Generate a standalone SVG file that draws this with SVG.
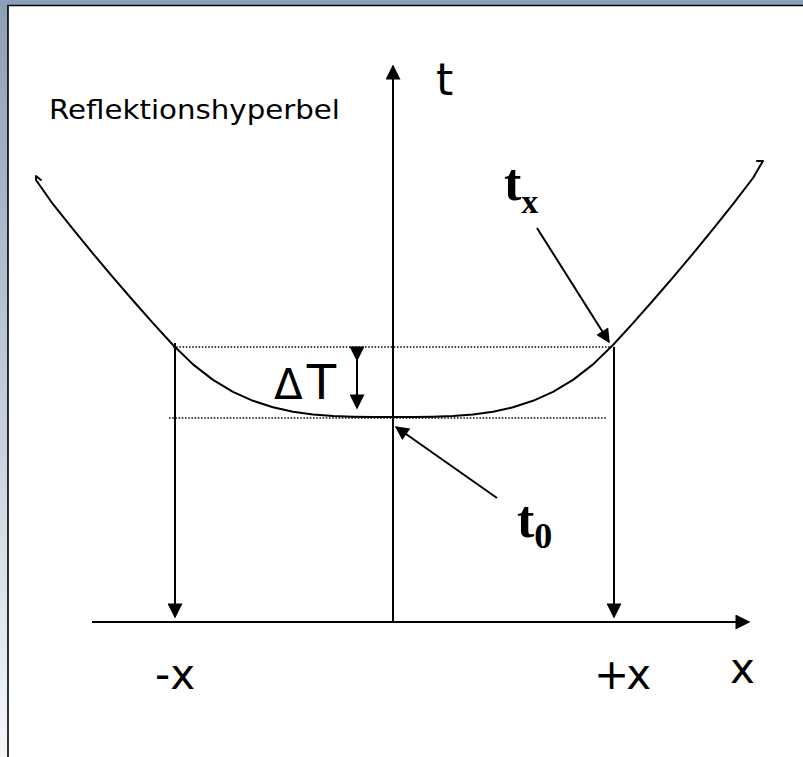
<svg xmlns="http://www.w3.org/2000/svg" width="803" height="757" viewBox="0 0 803 757">
  <defs>
    <linearGradient id="bg" x1="0" y1="0" x2="0" y2="1">
      <stop offset="0" stop-color="#8b9fb8"/>
      <stop offset="1" stop-color="#f4f7fa"/>
    </linearGradient>
    <marker id="ah" viewBox="0 0 10 10" refX="9" refY="5" markerWidth="16" markerHeight="15" markerUnits="userSpaceOnUse" orient="auto">
      <path d="M0,0 L10,5 L0,10 z" fill="#000"/>
    </marker>
    <marker id="ahs" viewBox="0 0 10 10" refX="9" refY="5" markerWidth="18" markerHeight="14" markerUnits="userSpaceOnUse" orient="auto">
      <path d="M0,0 L10,5 L0,10 z" fill="#000"/>
    </marker>
    <style>
      .ln { stroke:#000; stroke-width:2; fill:none; }
      .dot { stroke:#000; stroke-width:1.3; stroke-dasharray:1.5 1.7; fill:none; }
      .hand { font-family:"DejaVu Sans","Liberation Sans",sans-serif; fill:#000; }
      .serif { font-family:"Liberation Serif","DejaVu Serif",serif; font-weight:bold; fill:#000; }
    </style>
  </defs>

  <rect x="0" y="0" width="803" height="757" fill="url(#bg)"/>
  <rect x="8" y="5.5" width="800" height="760" fill="#fff"/>
  <path d="M8,757 V5.5 H803" stroke="#000" stroke-width="1.6" fill="none"/>

  <g id="connectors">
    <line id="t-axis" class="ln" x1="393" y1="622" x2="393" y2="66" marker-end="url(#ah)"/>
    <line id="x-axis" class="ln" x1="92" y1="622" x2="749" y2="622" marker-end="url(#ah)"/>
    <line id="drop-left" class="ln" x1="175" y1="343" x2="175" y2="617" marker-end="url(#ah)"/>
    <line id="drop-right" class="ln" x1="614" y1="347" x2="614" y2="617" marker-end="url(#ah)"/>
    <line id="delta-arrow" class="ln" x1="357" y1="360" x2="357" y2="408" marker-start="url(#ah)" marker-end="url(#ah)"/>
    <line id="tx-arrow" class="ln" x1="537" y1="228" x2="609" y2="342" marker-end="url(#ahs)"/>
    <line id="t0-arrow" class="ln" x1="497" y1="498" x2="396" y2="427" marker-end="url(#ahs)"/>
  </g>

  <g id="guides">
    <line class="dot" x1="173" y1="347" x2="612" y2="347"/>
    <line class="dot" x1="169" y1="418" x2="607" y2="418"/>
  </g>

  <g id="hyperbola">
    <path class="ln" stroke-linejoin="round" stroke-linecap="round" d="M41,180 L36,176 L36,180 L53,204.2 L73,229.2 L93,253.6 L113,277.4 L133,300.5 L153,323.1 L173,345 L193,364.4 L213,379.9 L233,391.8 L253,400.8 L273,407.3 L293,411.7 L313,414.4 L333,416 L353,416.7 L373,417 L393,417 L413,417 L433,416.7 L453,416 L473,414.4 L493,411.7 L513,407.3 L533,400.8 L553,391.8 L573,379.9 L593,364.4 L613,345 L633,323.1 L653,300.5 L673,277.4 L693,253.6 L713,229.2 L733,204.2 L753,178 L760,166 L763,161 L757,161"/>
  </g>

  <g id="labels">
    <text id="lbl-hyperbel" class="hand" x="49" y="119" font-size="27" textLength="291" lengthAdjust="spacingAndGlyphs">Reflektionshyperbel</text>
    <text id="lbl-t" class="hand" x="436" y="95" font-size="44">t</text>
    <text id="lbl-dT" class="hand" x="274" y="399" font-size="48"><tspan font-size="42">Δ</tspan><tspan dx="4">T</tspan></text>
    <text id="lbl-tx" class="serif" x="504" y="200" font-size="52">t<tspan font-size="34" dy="13">x</tspan></text>
    <text id="lbl-t0" class="serif" x="517" y="537" font-size="52">t<tspan font-size="36" dy="11">0</tspan></text>
    <text id="lbl-minus-x" class="hand" x="155" y="689" font-size="42">-x</text>
    <text id="lbl-plus-x" class="hand" x="594" y="689" font-size="42" letter-spacing="-3">+x</text>
    <text id="lbl-x" class="hand" x="730" y="683" font-size="42">x</text>
  </g>
</svg>
